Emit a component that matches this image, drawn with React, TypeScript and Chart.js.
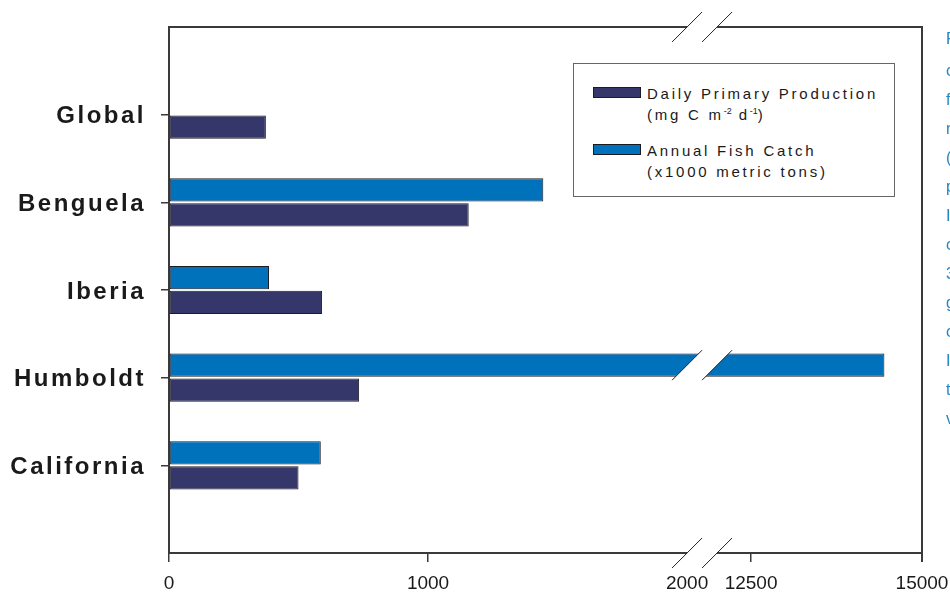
import React, { useEffect, useRef } from 'react';
import { Chart, registerables, LinearScale } from 'chart.js';

// ---- data ----
const categories = ['Global', 'Benguela', 'Iberia', 'Humboldt', 'California'];
const primaryProduction = [374, 1157, 591, 734, 500];
const fishCatch: (number | null)[] = [null, 1445, 386, 14450, 586];
const xTickValues = [0, 1000, 2000, 12500, 15000];
const lowerMax = 2000;
const upperMin = 12500;
const upperMax = 15000;
const seriesNames = ['Daily Primary Production', 'Annual Fish Catch'];
const sideLetters = ['F', 'c', 'f', 'r', '(', 'p', 'I', 'c', '3', 'g', 'c', 'I', 't', 'v'];

// ---- style ----
const FONT = '"Liberation Sans", Arial, Helvetica, sans-serif';
const NAVY = '#35366a';
const BLUE = '#0071bb';
const LINE = '#3a3a3a';
const LOWER_FRAC = 0.688;
const UPPER_FRAC = 0.773;

class BrokenLinearScale extends LinearScale {
  static id = 'brokenLinear';
  static defaults = LinearScale.defaults;
  buildTicks() {
    return xTickValues.map((v) => ({ value: v }));
  }
  getPixelForValue(value: number) {
    const v = value;
    let frac: number;
    if (v <= lowerMax) frac = (v / lowerMax) * LOWER_FRAC;
    else if (v >= upperMin) frac = UPPER_FRAC + ((v - upperMin) / (upperMax - upperMin)) * (1 - UPPER_FRAC);
    else frac = LOWER_FRAC + ((v - lowerMax) / (upperMin - lowerMax)) * (UPPER_FRAC - LOWER_FRAC);
    return (this as any).getPixelForDecimal(frac);
  }
  getValueForPixel(pixel: number) {
    const d = (this as any).getDecimalForPixel(pixel);
    if (d <= LOWER_FRAC) return (d / LOWER_FRAC) * lowerMax;
    if (d >= UPPER_FRAC) return upperMin + ((d - UPPER_FRAC) / (1 - UPPER_FRAC)) * (upperMax - upperMin);
    return lowerMax + ((d - LOWER_FRAC) / (UPPER_FRAC - LOWER_FRAC)) * (upperMin - lowerMax);
  }
}

class SpacedLinearScale extends LinearScale {
  static id = 'spacedLinear';
  static defaults = LinearScale.defaults;
  drawLabels(area: any) {
    const ctx = (this as any).ctx;
    const prev = ctx.letterSpacing;
    ctx.save();
    ctx.translate(0, 2);
    ctx.letterSpacing = '2.5px';
    (LinearScale.prototype as any).drawLabels.call(this, area);
    ctx.letterSpacing = prev || '0px';
    ctx.restore();
  }
}

Chart.register(...registerables, BrokenLinearScale as any, SpacedLinearScale as any);

const breakPlugin = {
  id: 'axisBreak',
  afterDraw(chart: any) {
    const { ctx, chartArea: a, scales } = chart;
    const b1 = scales.x.getPixelForValue(lowerMax);
    const b2 = b1 + 30;
    const d = 15;
    const line = (x1: number, y1: number, x2: number, y2: number) => {
      ctx.beginPath();
      ctx.moveTo(x1, y1);
      ctx.lineTo(x2, y2);
      ctx.stroke();
    };
    const slashes = (y: number) => {
      ctx.save();
      ctx.strokeStyle = '#222';
      ctx.lineWidth = 1;
      line(b1 - d, y + d, b1 + d, y - d);
      line(b2 - d, y + d, b2 + d, y - d);
      ctx.restore();
    };
    ctx.save();
    ctx.strokeStyle = LINE;
    ctx.lineWidth = 2;
    line(a.left, a.top, b1, a.top);
    line(b2, a.top, a.right, a.top);
    line(a.left - 1, a.bottom, b1, a.bottom);
    line(b2, a.bottom, a.right, a.bottom);
    line(a.right, a.top - 1, a.right, a.bottom + 9);
    chart.data.datasets.forEach((_: any, di: number) => {
      chart.getDatasetMeta(di).data.forEach((el: any) => {
        if (!el || !(el.x > b2) || !isFinite(el.y)) return;
        const yc = el.y;
        const h = el.height / 2 + 1;
        ctx.save();
        ctx.beginPath();
        ctx.rect(b1 - d - 2, yc - h, b2 - b1 + 2 * d + 4, 2 * h);
        ctx.clip();
        ctx.beginPath();
        ctx.moveTo(b1 - d, yc + d);
        ctx.lineTo(b1 + d, yc - d);
        ctx.lineTo(b2 + d, yc - d);
        ctx.lineTo(b2 - d, yc + d);
        ctx.closePath();
        ctx.fillStyle = '#fff';
        ctx.fill();
        ctx.restore();
        slashes(yc);
      });
    });
    slashes(a.top);
    slashes(a.bottom);
    ctx.restore();
  },
};

export default function App() {
  const canvasRef = useRef<HTMLCanvasElement | null>(null);

  useEffect(() => {
    if (!canvasRef.current) return;
    const chart = new Chart(canvasRef.current, {
      type: 'bar',
      data: {
        datasets: [
          {
            label: seriesNames[1],
            data: fishCatch.map((v, i) => ({ x: v, y: i })) as any,
            backgroundColor: BLUE,
            borderColor: '#1b1b24',
            borderWidth: 1,
            borderSkipped: false,
          },
          {
            label: seriesNames[0],
            data: primaryProduction.map((v, i) => ({ x: v, y: i })) as any,
            backgroundColor: NAVY,
            borderColor: '#1b1b24',
            borderWidth: 1,
            borderSkipped: false,
          },
        ],
      },
      options: {
        indexAxis: 'y',
        animation: false,
        responsive: false,
        maintainAspectRatio: false,
        categoryPercentage: 0.57,
        barPercentage: 0.93,
        layout: { padding: { left: 0, top: 27, right: 28, bottom: 0 } },
        plugins: { legend: { display: false }, tooltip: { enabled: false } },
        scales: {
          x: {
            type: 'brokenLinear' as any,
            min: 0,
            max: upperMax,
            afterFit: (s: any) => {
              s.height = 41;
              s.paddingLeft = 0;
              s.paddingRight = 0;
            },
            ticks: {
              callback: (v: any) => String(v),
              font: { family: FONT, size: 19 },
              color: '#1a1a1a',
              padding: 10,
              autoSkip: false,
              maxRotation: 0,
            },
            grid: {
              drawOnChartArea: false,
              drawTicks: true,
              tickLength: 9,
              lineWidth: 1.5,
              color: (c: any) => (c.tick && c.tick.value === lowerMax ? 'rgba(0,0,0,0)' : LINE),
            },
            border: { display: false },
          },
          y: {
            type: 'spacedLinear' as any,
            min: -1,
            max: 5,
            reverse: true,
            offset: false,
            afterBuildTicks: (s: any) => {
              s.ticks = categories.map((_, i) => ({ value: i }));
            },
            afterFit: (s: any) => {
              s.width = 169;
              s.paddingTop = 0;
              s.paddingBottom = 0;
            },
            ticks: {
              callback: (v: any) => categories[v] ?? '',
              font: { family: FONT, size: 24, weight: 'bold' },
              color: '#1a1a1a',
              padding: 15,
              autoSkip: false,
            },
            grid: {
              offset: false,
              drawOnChartArea: false,
              drawTicks: true,
              tickLength: 8,
              lineWidth: 1.5,
              color: LINE,
            },
            border: { display: true, color: LINE, width: 2 },
          },
        } as any,
      },
      plugins: [breakPlugin],
    });
    return () => chart.destroy();
  }, []);

  const textStyle: React.CSSProperties = {
    position: 'absolute',
    left: 73,
    fontFamily: FONT,
    fontSize: 15,
    lineHeight: '15px',
    letterSpacing: '2.75px',
    color: '#1a1a1a',
    whiteSpace: 'nowrap',
  };
  const supStyle: React.CSSProperties = { fontSize: 9, verticalAlign: 'top', position: 'relative', top: -3, letterSpacing: 0 };
  const swatch = (top: number, color: string): React.CSSProperties => ({
    position: 'absolute',
    left: 19,
    top,
    width: 46,
    height: 9,
    background: color,
    border: '1px solid #1b1b24',
  });

  return (
    <div style={{ position: 'fixed', left: 0, top: 0, width: 950, height: 594, overflow: 'hidden', background: '#fff' }}>
      <canvas ref={canvasRef} width={950} height={594} style={{ position: 'absolute', left: 0, top: 0 }} />
      <div
        style={{
          position: 'absolute',
          left: 573,
          top: 63,
          width: 320,
          height: 132,
          border: '1px solid #666',
          background: '#fff',
        }}
      >
        <div style={swatch(23, NAVY)} />
        <div style={{ ...textStyle, top: 22 }}>{seriesNames[0]}</div>
        <div style={{ ...textStyle, top: 43 }}>
          (mg C m<span style={supStyle}>-2</span> d<span style={supStyle}>-1</span>)
        </div>
        <div style={swatch(80, BLUE)} />
        <div style={{ ...textStyle, top: 79 }}>{seriesNames[1]}</div>
        <div style={{ ...textStyle, top: 100 }}>(x1000 metric tons)</div>
      </div>
      {sideLetters.map((ch, i) => (
        <div
          key={i}
          style={{
            position: 'absolute',
            left: 946,
            top: i === 0 ? 29 : 61 + (i - 1) * 29,
            fontFamily: FONT,
            fontSize: 16,
            lineHeight: '20px',
            color: '#1f87c7',
            whiteSpace: 'nowrap',
          }}
        >
          {ch}
        </div>
      ))}
    </div>
  );
}
